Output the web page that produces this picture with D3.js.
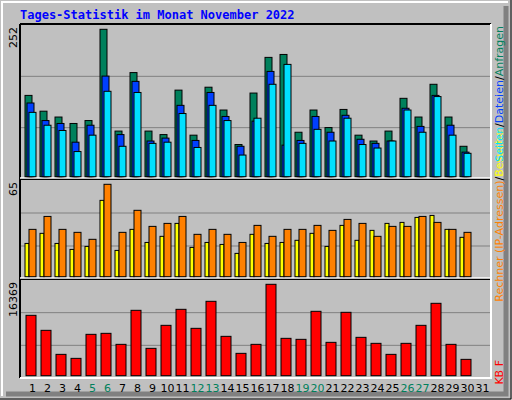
<!DOCTYPE html>
<html><head><meta charset="utf-8">
<script src="https://cdn.jsdelivr.net/npm/d3@7"></script>
<style>body{margin:0;background:#fff}</style>
</head><body><div id="chart"></div>
<script>
// data
const days = d3.range(1, 32);
const weekend = [5, 6, 12, 13, 19, 20, 26, 27];
const hits  = [139,112,102,91,96,252,78,178,78,72,148,71,153,114,55,143,204,209,76,114,84,115,71,61,78,134,102,158,102,52];
const files = [126,96,91,59,88,172,72,163,61,66,122,62,144,103,52,95,180,54,62,103,76,105,64,57,61,117,86,139,88,42];
const pages = [110,88,79,43,71,146,52,144,57,59,108,50,122,96,37,100,158,192,57,81,61,100,55,49,61,114,76,137,71,40];
const visits = [23.4,30.5,23.4,19.2,21.3,53.7,18.5,33.3,24.1,28.4,37.5,20.6,24.1,22.7,16.4,29.8,23.4,24.1,25.6,30.5,21.3,36.1,25.6,32.6,37.5,38.2,41.7,43.1,33.3,27.7];
const sites  = [33.3,42.4,33.3,31.2,26.3,65,31.2,46.7,35.4,37.5,42.4,29.8,33.3,29.8,24.1,36.1,28.4,33.3,33.3,36.1,32.6,40.3,37.5,28.4,35.4,35.4,42.4,38.2,33.3,31.2];
const kbytes = [10813,8125,3823,3106,7408,7587,5616,11709,4899,9021,11888,8483,13322,7049,4003,5616,16369,6691,6512,11530,5974,11351,6870,5795,3823,5795,9021,12964,5616,2927];
const maxLabels = ["252", "65", "16369"];

const W = 512, H = 400;
const svg = d3.select('#chart').append('svg').attr('width', W).attr('height', H);

// outer frame
svg.append('rect').attr('width', W).attr('height', H).attr('fill', '#c0c0c0');
svg.append('path').attr('d', `M${W-1},0V${H-1}H0`).attr('stroke', '#000').attr('fill', 'none');
svg.append('path').attr('d', `M6,${H-6}H${W-6}V6`).attr('stroke', '#808080').attr('stroke-width', 5).attr('fill', 'none');
svg.append('path').attr('d', `M2,${H-4}V2H${W-4}`).attr('stroke', '#fff').attr('stroke-width', 2).attr('fill', 'none');

svg.append('text').attr('x', 20).attr('y', 19)
  .attr('font-family', 'DejaVu Sans Mono').attr('font-weight', 'bold').attr('font-size', 12)
  .attr('fill', '#0000ff').text('Tages-Statistik im Monat November 2022');

const x = d3.scaleBand().domain(days).range([23, 488]);
const left = 20, right = 491;
const panels = [
  {top: 25, bottom: 177, max: 252},
  {top: 180, bottom: 277, max: 65},
  {top: 280, bottom: 376, max: 16369}
];

panels.forEach((p, i) => {
  svg.append('line').attr('x1', left).attr('x2', right).attr('y1', p.top - 1).attr('y2', p.top - 1).attr('stroke', '#000').attr('stroke-width', 2);
  const h = p.bottom + 2 - p.top;
  [1, 2].forEach(k => svg.append('line').attr('x1', left).attr('x2', right)
    .attr('y1', p.top + h * k / 3).attr('y2', p.top + h * k / 3).attr('stroke', '#808080'));
  svg.append('text').attr('transform', `translate(${left - 3},${p.top + 2}) rotate(-90)`)
    .attr('text-anchor', 'end').attr('font-family', 'DejaVu Sans').attr('font-size', 11).text(maxLabels[i]);
});
svg.append('line').attr('x1', left).attr('x2', left).attr('y1', 24).attr('y2', 378).attr('stroke', '#000').attr('stroke-width', 2);
svg.append('path').attr('d', `M${right},24V378H${left}`).attr('stroke', '#fff').attr('stroke-width', 2).attr('fill', 'none');
svg.append('line').attr('x1', left).attr('x2', right).attr('y1', 178).attr('y2', 178).attr('stroke', '#fff').attr('stroke-width', 1.5);
svg.append('line').attr('x1', left).attr('x2', right).attr('y1', 278).attr('y2', 278).attr('stroke', '#fff').attr('stroke-width', 1.5);

function bars(data, y, color, off, w) {
  svg.append('g').selectAll('rect').data(data).enter().append('rect')
    .attr('x', (d, i) => x(days[i]) + off).attr('width', w)
    .attr('y', d => y(d)).attr('height', d => y(0) - y(d))
    .attr('fill', color).attr('stroke', '#000').attr('stroke-width', 1);
}

const y1 = d3.scaleLinear().domain([0, 252]).range([176.7, 29.3]);
bars(hits, y1, '#00805c', 2, 7);
bars(files, y1, '#0040ff', 4, 7);
bars(pages, y1, '#00e0ff', 6, 7);

const y2 = d3.scaleLinear().domain([0, 65]).range([276.7, 184.3]);
bars(visits, y2, '#ffff00', 2, 4);
bars(sites, y2, '#ff8000', 6, 7);

const y3 = d3.scaleLinear().domain([0, 16369]).range([375.7, 284.3]);
bars(kbytes, y3, '#ff0000', 3, 10);

// day labels
svg.append('g').selectAll('text').data(days).enter().append('text')
  .attr('x', d => x(d) + x.bandwidth() / 2 + 2).attr('y', 392)
  .attr('text-anchor', 'middle').attr('font-family', 'DejaVu Sans').attr('font-size', 11)
  .attr('fill', d => weekend.includes(d) ? '#00805c' : '#000').text(d => d);

// right side legends
function legend(yEnd, parts) {
  const t = svg.append('text').attr('transform', `translate(503,${yEnd}) rotate(-90)`)
    .attr('text-anchor', 'end').attr('font-family', 'DejaVu Sans').attr('font-size', 11);
  parts.forEach(([s, c]) => t.append('tspan').attr('fill', c).text(s));
}
legend(130, [['Rechner (IP-Adressen)', '#ff8000'], ['/', '#000'], ['Besuche', '#ffff00']]);
legend(26, [['Seiten', '#00e0ff'], ['/', '#000'], ['Dateien', '#0040ff'], ['/', '#000'], ['Anfragen', '#00805c']]);
legend(360, [['KB F', '#ff0000']]);
</script></body></html>
